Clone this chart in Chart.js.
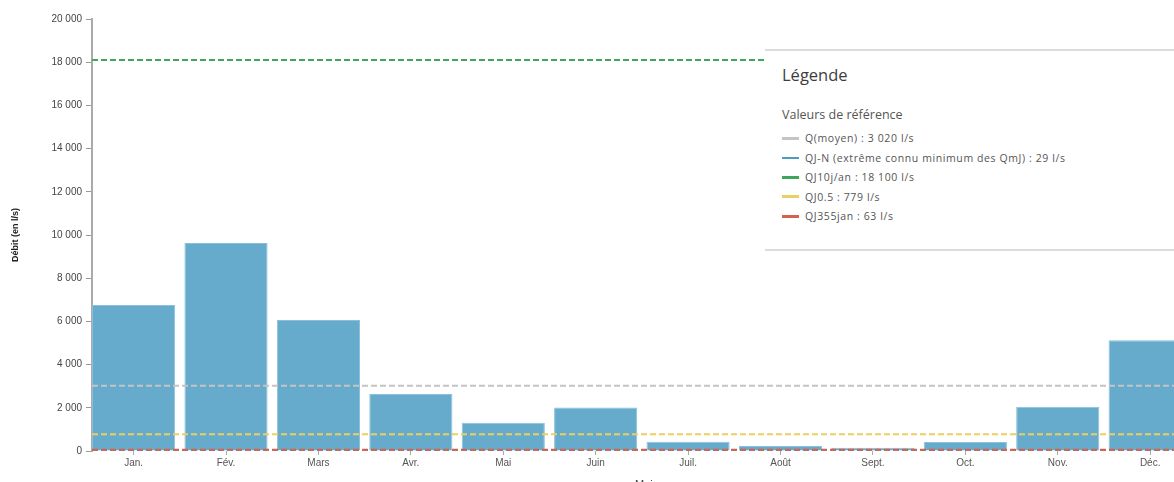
<!DOCTYPE html>
<html lang="fr">
<head>
<meta charset="UTF-8">
<title>Débits mensuels</title>
<style>
    html, body {
        margin: 0;
        padding: 0;
        background: #fff;
        overflow: hidden;
        width: 1174px;
        height: 482px;
    }
    .wrap {
        position: relative;
        width: 1201px;
        height: 492px;
    }
    #chart {
        position: absolute;
        left: 0;
        top: 0;
    }
    /* panneau de légende posé par-dessus le graphique */
    .legend {
        position: absolute;
        left: 765px;
        top: 49px;
        width: 420px;
        height: 198px;
        background: #fff;
        border-top: 2px solid #dcdcdc;
        border-bottom: 2px solid #dcdcdc;
        font-family: "Open Sans", sans-serif;
        color: #444;
    }
    .legend h3 {
        margin: 0;
        position: absolute;
        left: 17px;
        top: 12px;
        font-size: 16.5px;
        font-weight: normal;
        color: #3d3d3d;
    }
    .legend .sub {
        position: absolute;
        left: 17px;
        top: 55px;
        font-size: 12.5px;
        color: #555;
    }
    .legend ul {
        list-style: none;
        margin: 0;
        padding: 0;
        position: absolute;
        left: 17px;
        top: 78px;
    }
    .legend li {
        height: 19.5px;
        line-height: 19.5px;
        font-size: 10.5px;
        letter-spacing: 0.6px;
        color: #555;
        white-space: nowrap;
    }
    .legend li span {
        display: inline-block;
        width: 17px;
        height: 3px;
        vertical-align: middle;
        margin-right: 6px;
        position: relative;
        top: -1px;
    }
</style>
</head>
<body>
<div class="wrap">
    <canvas id="chart" width="1201" height="492"></canvas>
    <div class="legend">
        <h3>Légende</h3>
        <div class="sub">Valeurs de référence</div>
        <ul id="legend-items"></ul>
    </div>
</div>

<script src="https://cdn.jsdelivr.net/npm/chart.js@4"></script>
<script>
    // Débits mensuels (l/s)
    const months = ['Jan.', 'Fév.', 'Mars', 'Avr.', 'Mai', 'Juin', 'Juil.', 'Août', 'Sept.', 'Oct.', 'Nov.', 'Déc.'];
    const flows = [6760, 9630, 6070, 2640, 1310, 2010, 430, 230, 150, 420, 2050, 5130];

    // Valeurs de référence
    const refLabels = ['Q(moyen)', 'QJ-N (extrême connu minimum des QmJ)', 'QJ10j/an', 'QJ0.5', 'QJ355jan'];
    const refValues = [3020, 29, 18100, 779, 63];
    const refColors = ['#c4c4c4', '#4f9cc2', '#3fa65c', '#ead062', '#d3624e'];

    const yTicks = [0, 2000, 4000, 6000, 8000, 10000, 12000, 14000, 16000, 18000, 20000];

    const fmt = v => String(v).replace(/\B(?=(\d{3})+(?!\d))/g, ' ');

    // légende html
    document.getElementById('legend-items').innerHTML = refLabels.map((l, i) =>
        `<li><span style="background:${refColors[i]};${i === 1 ? 'height:2px' : ''}"></span>${l} : ${fmt(refValues[i])} l/s</li>`
    ).join('');

    const xMin = -0.45, xMax = months.length - 0.45;

    const datasets = [{
        type: 'bar',
        data: flows.map((v, i) => ({ x: i, y: v })),
        backgroundColor: '#67abcc',
        borderColor: '#8cc0da',
        borderWidth: 1,
        categoryPercentage: 1,
        barPercentage: 0.9,
        order: 10
    }];

    // lignes de référence (bleu dessiné sous le rouge)
    [0, 2, 3, 1, 4].forEach((i, k) => {
        datasets.push({
            type: 'line',
            data: [{ x: xMin, y: refValues[i] }, { x: xMax, y: refValues[i] }],
            borderColor: refColors[i],
            borderWidth: 2,
            borderDash: [6, 3],
            pointRadius: 0,
            fill: false,
            order: 5 - k
        });
    });

    const tickFont = { family: 'Liberation Sans', size: 10 };

    new Chart(document.getElementById('chart'), {
        type: 'bar',
        data: { datasets },
        options: {
            responsive: false,
            animation: false,
            events: [],
            layout: { padding: { top: 19, left: 0, right: 0, bottom: 0 } },
            plugins: { legend: { display: false }, tooltip: { enabled: false } },
            scales: {
                x: {
                    type: 'linear',
                    offset: false,
                    min: xMin,
                    max: xMax,
                    afterBuildTicks: s => { s.ticks = months.map((m, i) => ({ value: i })); },
                    afterFit: s => { s.height = 41; },
                    ticks: {
                        callback: v => months[v],
                        color: '#555',
                        font: tickFont,
                        padding: 2,
                        maxRotation: 0,
                        autoSkip: false
                    },
                    grid: { offset: false, drawOnChartArea: false, drawTicks: true, tickLength: 4, color: '#aaa' },
                    border: { display: false },
                    title: {
                        display: true,
                        text: 'Mois',
                        color: '#444',
                        font: { family: 'Liberation Sans', size: 11 },
                        padding: 0
                    }
                },
                y: {
                    min: 0,
                    max: 20000,
                    afterBuildTicks: s => { s.ticks = yTicks.map(v => ({ value: v })); },
                    afterFit: s => { s.width = 92; },
                    ticks: {
                        callback: v => fmt(v),
                        color: '#444',
                        font: tickFont,
                        padding: 4
                    },
                    grid: { drawOnChartArea: false, drawTicks: true, tickLength: 6, color: '#999' },
                    border: { display: true, color: '#aaa', width: 2 },
                    title: {
                        display: true,
                        text: 'Débit (en l/s)',
                        color: '#222',
                        font: { family: 'Liberation Sans', size: 9, weight: 'bold' },
                        padding: { top: 10, bottom: 0 }
                    }
                }
            }
        }
    });
</script>
</body>
</html>
